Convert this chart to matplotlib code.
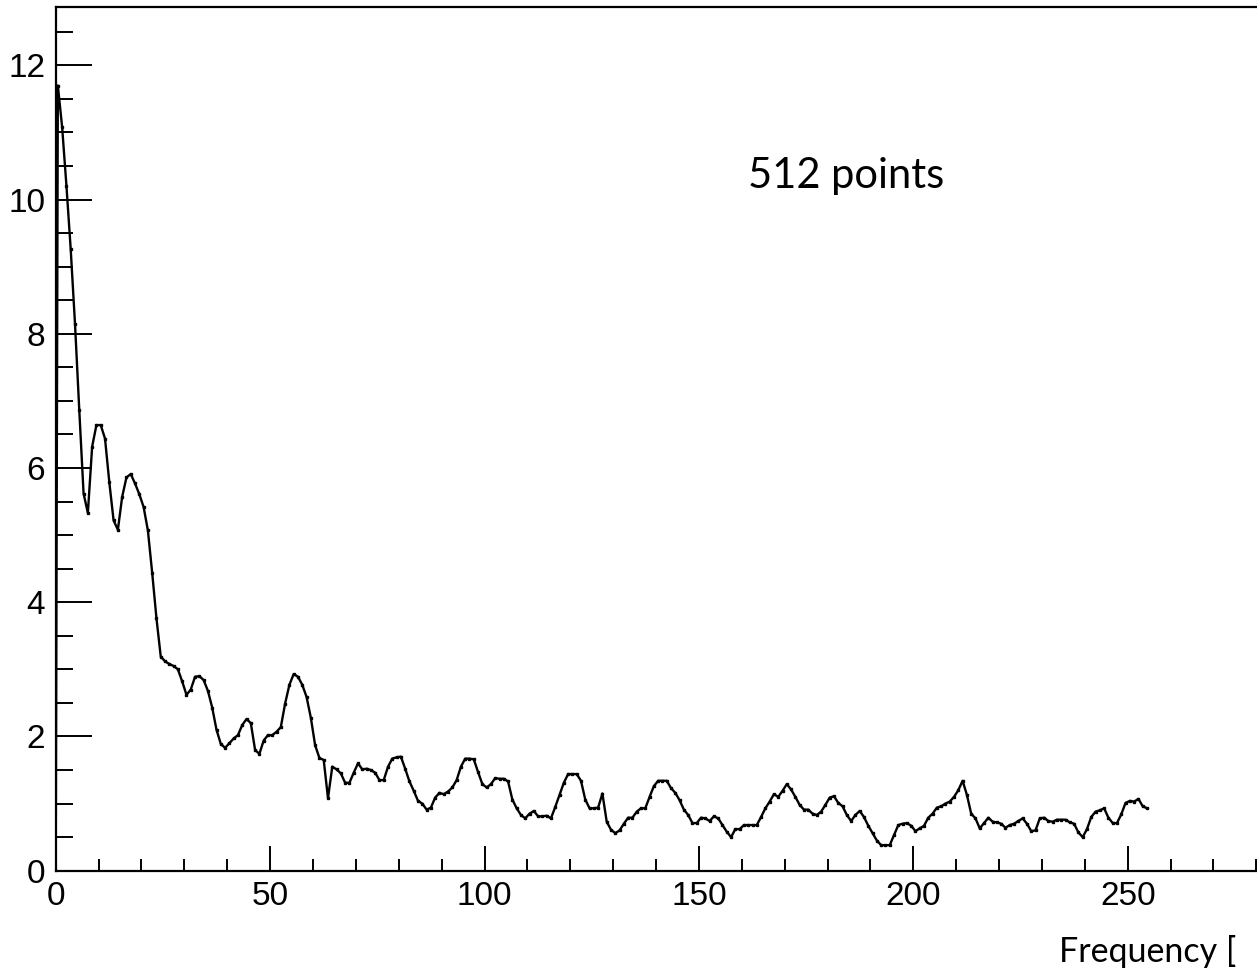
import numpy as np
import matplotlib.pyplot as plt
from matplotlib.ticker import MultipleLocator

# spectrum amplitude per 1 Hz bin (bin centres at n + 0.5)
amplitude = [
    11.70, 11.08, 10.21, 9.26, 8.15, 6.86, 5.62, 5.33, 6.32, 6.64,
    6.64, 6.44, 5.79, 5.22, 5.08, 5.57, 5.86, 5.91, 5.77, 5.61,
    5.42, 5.07, 4.44, 3.76, 3.19, 3.12, 3.08, 3.05, 3.00, 2.82,
    2.62, 2.70, 2.89, 2.90, 2.84, 2.68, 2.43, 2.10, 1.89, 1.83,
    1.90, 1.97, 2.02, 2.17, 2.26, 2.20, 1.80, 1.74, 1.94, 2.02,
    2.02, 2.07, 2.14, 2.49, 2.77, 2.93, 2.89, 2.77, 2.59, 2.28,
    1.87, 1.68, 1.65, 1.08, 1.55, 1.51, 1.45, 1.31, 1.31, 1.46,
    1.60, 1.51, 1.52, 1.50, 1.46, 1.35, 1.35, 1.55, 1.67, 1.69,
    1.70, 1.52, 1.33, 1.19, 1.04, 1.00, 0.91, 0.94, 1.09, 1.16,
    1.14, 1.18, 1.24, 1.35, 1.55, 1.67, 1.67, 1.66, 1.47, 1.29,
    1.24, 1.29, 1.38, 1.37, 1.37, 1.33, 1.06, 0.93, 0.83, 0.78,
    0.85, 0.89, 0.81, 0.81, 0.82, 0.78, 0.95, 1.13, 1.31, 1.44,
    1.44, 1.44, 1.34, 1.06, 0.93, 0.93, 0.94, 1.15, 0.73, 0.61,
    0.56, 0.60, 0.70, 0.79, 0.79, 0.88, 0.93, 0.93, 1.10, 1.26,
    1.34, 1.34, 1.34, 1.23, 1.16, 1.05, 0.91, 0.83, 0.71, 0.71,
    0.79, 0.78, 0.74, 0.81, 0.78, 0.68, 0.58, 0.50, 0.62, 0.62,
    0.68, 0.68, 0.68, 0.68, 0.80, 0.93, 1.03, 1.14, 1.10, 1.19,
    1.29, 1.21, 1.10, 0.98, 0.91, 0.91, 0.85, 0.83, 0.88, 0.98,
    1.09, 1.11, 1.01, 0.96, 0.83, 0.74, 0.83, 0.89, 0.80, 0.67,
    0.56, 0.45, 0.38, 0.38, 0.38, 0.53, 0.68, 0.70, 0.71, 0.67,
    0.59, 0.63, 0.67, 0.79, 0.85, 0.94, 0.96, 1.00, 1.03, 1.10,
    1.20, 1.34, 1.13, 0.85, 0.78, 0.63, 0.71, 0.79, 0.73, 0.72,
    0.70, 0.64, 0.68, 0.70, 0.74, 0.78, 0.70, 0.59, 0.60, 0.78,
    0.79, 0.74, 0.73, 0.76, 0.76, 0.76, 0.72, 0.70, 0.57, 0.50,
    0.62, 0.80, 0.88, 0.90, 0.93, 0.79, 0.71, 0.71, 0.84, 1.01,
    1.04, 1.03, 1.07, 0.96, 0.93,
]
dc_point = (0.0, 0.0)
freq = np.concatenate([[dc_point[0]], np.arange(len(amplitude)) + 0.5])
amp = np.concatenate([[dc_point[1]], amplitude])

W, H = 1257, 971
fig = plt.figure(figsize=(W / 100, H / 100), dpi=100)
x0, y0, ytop = 55.7, 870.7, 7.0
ax = fig.add_axes([x0 / W, (H - y0) / H, (W - x0) / W, (y0 - ytop) / H])

ax.plot(freq, amp, color='black', lw=1.7, marker='s', ms=1.6,
        mec='black', mfc='black')

ax.set_xlim(0, (W - x0) / 4.288)
ax.set_ylim(0, 12.87)

ax.xaxis.set_major_locator(MultipleLocator(50))
ax.xaxis.set_minor_locator(MultipleLocator(10))
ax.yaxis.set_major_locator(MultipleLocator(2))
ax.yaxis.set_minor_locator(MultipleLocator(0.5))

ax.spines['right'].set_visible(False)
for s in ['left', 'bottom', 'top']:
    ax.spines[s].set_linewidth(1.6)

ax.tick_params(axis='both', which='both', direction='in', width=1.4,
               top=False, right=False, labelsize=24)
ax.tick_params(axis='y', which='major', length=26, pad=7.5)
ax.tick_params(axis='y', which='minor', length=12)
ax.tick_params(axis='x', which='major', length=18, pad=7.5)
ax.tick_params(axis='x', which='minor', length=8.6)
for lab in ax.get_xticklabels() + ax.get_yticklabels():
    lab.set_family('Liberation Sans')

fig.text(748 / W, 1 - 188 / H, '512 points', family='Lato', fontsize=30,
         va='baseline', ha='left')
fig.text(1059 / W, 1 - 961.7 / H, 'Frequency [', family='Lato',
         fontsize=24.5, va='baseline', ha='left')

fig.savefig('out.png', dpi=100)
